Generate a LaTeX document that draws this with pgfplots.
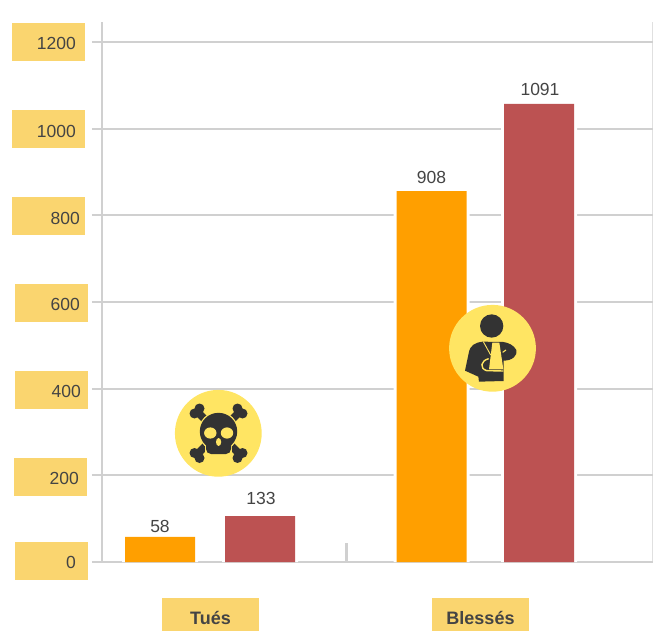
\documentclass[border=0pt]{standalone}
\usepackage{pgfplots}
\usepackage{pgfplotstable}
\usepackage{fontspec}
\setmainfont{Liberation Sans}
\pgfplotsset{compat=1.18}
\definecolor{gridc}{HTML}{D0D0D0}
\definecolor{boxc}{HTML}{FAD56F}
\definecolor{barorange}{HTML}{FF9F00}
\definecolor{barred}{HTML}{BC5252}
\definecolor{circ}{HTML}{FFE563}
\definecolor{txt}{HTML}{444444}
\definecolor{icon}{HTML}{333333}
\newcommand\pad[2]{\rule{#1pt}{0pt}\rule{0pt}{#2pt}}
\pgfplotstableread{
x h
160 58
431.5 856
}\orangebars
\pgfplotstableread{
x h
260 106
539 1057
}\redbars
\begin{document}
\begin{tikzpicture}
\clip[use as bounding box] (0,0) rectangle (664pt,630pt);
\begin{axis}[
  at={(102pt,68pt)}, anchor=south west,
  x=1pt, y=0.43333pt,
  xmin=102, xmax=652.6, ymin=0, ymax=1246,
  axis y line*=left, axis x line*=bottom,
  x axis line style={draw=none},
  y axis line style={gridc, line width=2pt, -},
  ymajorgrids, grid style={gridc, line width=2pt},
  ytick={0,200,400,600,800,1000,1200},
  yticklabels={0\pad{12}{14.6},200\pad{8}{14.6},400\pad{7}{14.6},600\pad{8}{14.6},800\pad{5}{16.6},1000\pad{9}{16.6},1200\pad{9}{14.6}},
  tick align=outside,
  ytick style={gridc, line width=2pt},
  major tick length=10pt,
  yticklabel style={
    font=\fontsize{17.5}{19}\selectfont, text=txt, fill=boxc,
    inner sep=0pt, text width=73pt, align=right, minimum height=38pt,
    anchor=east,
    xshift={{-4,-5,-4,-4,-7,-7,-7}[\ticknum]*1pt},
    yshift={{1,-1.7,-1.3,-1,-0.7,-0.3,0}[\ticknum]*1pt},
  },
  xtick={210.5,480.5},
  xticklabels={Tués,Blessés},
  xtick style={draw=none},
  xticklabel style={
    font=\fontsize{18}{19}\bfseries\selectfont, text=txt, fill=boxc,
    inner sep=0pt, minimum width=97pt, minimum height=40pt, anchor=north,
    yshift=-26pt,
  },
]
\addplot[ybar, bar shift=0pt, bar width=76pt, fill=white, draw=none] table[x=x,y=h] {\orangebars};
\addplot[ybar, bar shift=0pt, bar width=76pt, fill=white, draw=none] table[x=x,y=h] {\redbars};
\addplot[ybar, bar shift=0pt, bar width=70pt, fill=barorange, draw=none] table[x=x,y=h] {\orangebars};
\addplot[ybar, bar shift=0pt, bar width=70pt, fill=barred, draw=none] table[x=x,y=h] {\redbars};
\addplot[ycomb, mark=none, gridc, line width=3pt] coordinates {(346.5,44)};
\draw[gridc, line width=2pt] (axis cs:652.6,0) -- (axis cs:652.6,1246);
\tikzset{vl/.style={font=\fontsize{17.5}{19}\selectfont, text=txt, inner sep=0pt}}
\node[vl] at (axis cs:160,83) {58};
\node[vl] at (axis cs:261,147) {133};
\node[vl] at (axis cs:431.5,888) {908};
\node[vl] at (axis cs:540,1090) {1091};
\end{axis}
% icons, in picture pixels
\begin{scope}[shift={(0pt,630pt)}, x=1pt, y=-1pt]
  \fill[circ] (218.3,433.3) circle[radius=43.4];
  \fill[circ] (492.5,348.3) circle[radius=43.4];
  % skull
  \draw[icon, line width=7.5pt] (197,411.5) -- (240,454.5);
  \draw[icon, line width=7.5pt] (240,411.5) -- (197,454.5);
  \fill[icon] (194.5,413.5) circle[radius=5] (199.5,408.5) circle[radius=5];
  \fill[icon] (242.5,413.5) circle[radius=5] (237.5,408.5) circle[radius=5];
  \fill[icon] (194.5,453) circle[radius=5] (199.5,458) circle[radius=5];
  \fill[icon] (242.5,453) circle[radius=5] (237.5,458) circle[radius=5];
  \fill[circ] (218.5,431.5) circle[radius=20];
  \fill[circ] (205,440) rectangle (232,455);
  \fill[icon] (218.5,431.5) circle[radius=18.7];
  \fill[icon, rounded corners=5pt] (206,440) rectangle (231,454);
  \fill[circ] (210.3,433) ellipse[x radius=6.2, y radius=5.6];
  \fill[circ] (227,433) ellipse[x radius=6.2, y radius=5.6];
  \fill[circ] (218.6,442) ellipse[x radius=2.6, y radius=4];
  % injured person
  \begin{scope}[shift={(440,300)}, x=0.33333pt, y=-0.33333pt]
    \fill[icon] (155,78) circle[radius=35];
    \fill[icon] (128,125) .. controls (105,128) and (90,135) .. (86,160)
      -- (75,212) -- (115,230) -- (117,245) -- (191,243) -- (191,182)
      .. controls (216,182) and (234,167) .. (229,150)
      .. controls (222,136) and (205,128) .. (190,126) -- cycle;
    \fill[circ] (157,128) -- (178,128) -- (190,208) -- (147,208) -- cycle;
    \draw[circ, line width=0.9pt] (130,125) -- (152,165);
    \draw[circ, line width=1.4pt] (146,176) .. controls (122,182) and (118,205) .. (140,212) -- (190,213);
    \draw[circ, line width=1.1pt] (188,157) -- (198,150);
  \end{scope}
\end{scope}
\end{tikzpicture}
\end{document}
